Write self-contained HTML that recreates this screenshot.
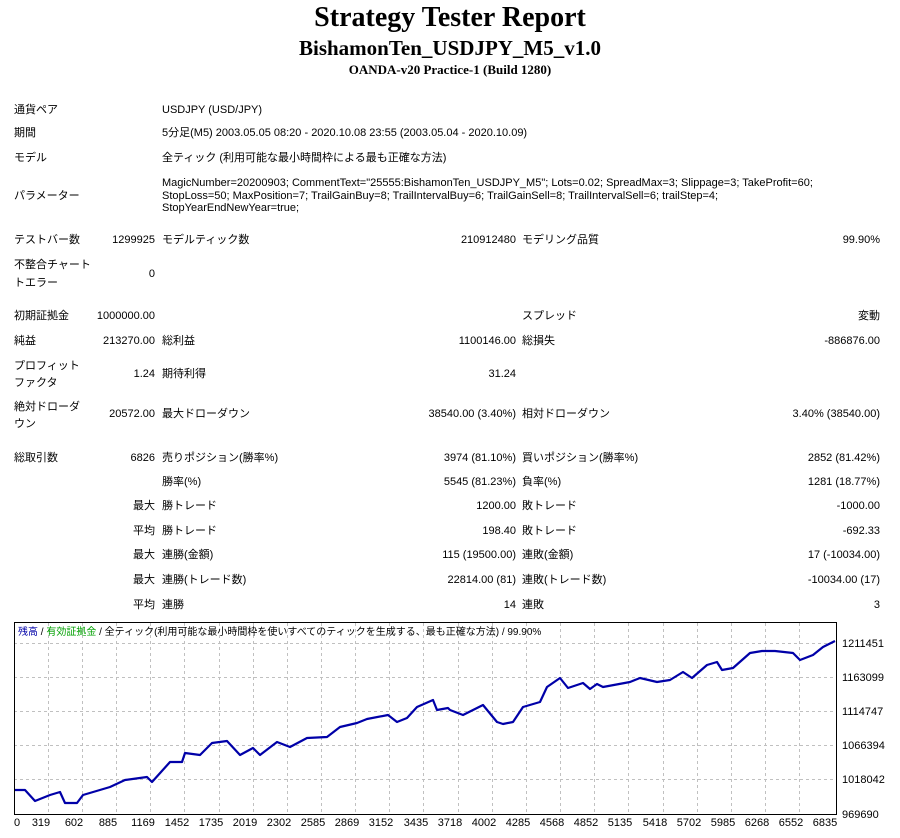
<!DOCTYPE html>
<html><head><meta charset="utf-8"><style>
body{margin:0;width:900px;height:838px;background:#fff;position:relative;overflow:hidden;font-family:"Liberation Sans","Noto Sans CJK JP",sans-serif;font-size:11px;color:#000}
.t{position:absolute;line-height:14px;white-space:nowrap}
.r{position:absolute;line-height:14px;white-space:nowrap;text-align:right}
.h{position:absolute;left:0;width:900px;text-align:center;font-family:"Liberation Serif","Noto Serif CJK SC",serif;font-weight:bold}
</style></head><body>
<div class="h" style="top:2px;font-size:28px;line-height:32px">Strategy Tester Report</div>
<div class="h" style="top:36px;font-size:21px;line-height:24px">BishamonTen_USDJPY_M5_v1.0</div>
<div class="h" style="top:62px;font-size:13px;line-height:16px">OANDA-v20 Practice-1 (Build 1280)</div>

<div class="t" style="left:14px;top:103px">通貨ペア</div><div class="t" style="left:162px;top:103px">USDJPY (USD/JPY)</div>
<div class="t" style="left:14px;top:126px">期間</div><div class="t" style="left:162px;top:126px">5分足(M5) 2003.05.05 08:20 - 2020.10.08 23:55 (2003.05.04 - 2020.10.09)</div>
<div class="t" style="left:14px;top:151px">モデル</div><div class="t" style="left:162px;top:151px">全ティック (利用可能な最小時間枠による最も正確な方法)</div>
<div class="t" style="left:14px;top:189px">パラメーター</div>
<div class="t" style="left:162px;top:177px;line-height:12.5px">MagicNumber=20200903; CommentText="25555:BishamonTen_USDJPY_M5"; Lots=0.02; SpreadMax=3; Slippage=3; TakeProfit=60;<br>StopLoss=50; MaxPosition=7; TrailGainBuy=8; TrailIntervalBuy=6; TrailGainSell=8; TrailIntervalSell=6; trailStep=4;<br>StopYearEndNewYear=true;</div>

<div class="t" style="left:14px;top:233px">テストバー数</div><div class="r" style="right:745px;top:233px">1299925</div>
<div class="t" style="left:162px;top:233px">モデルティック数</div><div class="r" style="right:384px;top:233px">210912480</div>
<div class="t" style="left:522px;top:233px">モデリング品質</div><div class="r" style="right:20px;top:233px">99.90%</div>
<div class="t" style="left:14px;top:256px;line-height:18px">不整合チャート<br>トエラー</div><div class="r" style="right:745px;top:267px">0</div>

<div class="t" style="left:14px;top:309px">初期証拠金</div><div class="r" style="right:745px;top:309px">1000000.00</div>
<div class="t" style="left:522px;top:309px">スプレッド</div><div class="r" style="right:20px;top:309px">変動</div>
<div class="t" style="left:14px;top:334px">純益</div><div class="r" style="right:745px;top:334px">213270.00</div>
<div class="t" style="left:162px;top:334px">総利益</div><div class="r" style="right:384px;top:334px">1100146.00</div>
<div class="t" style="left:522px;top:334px">総損失</div><div class="r" style="right:20px;top:334px">-886876.00</div>
<div class="t" style="left:14px;top:358px;line-height:17px">プロフィット<br>ファクタ</div><div class="r" style="right:745px;top:367px">1.24</div>
<div class="t" style="left:162px;top:367px">期待利得</div><div class="r" style="right:384px;top:367px">31.24</div>
<div class="t" style="left:14px;top:399px;line-height:17px">絶対ドローダ<br>ウン</div><div class="r" style="right:745px;top:407px">20572.00</div>
<div class="t" style="left:162px;top:407px">最大ドローダウン</div><div class="r" style="right:384px;top:407px">38540.00 (3.40%)</div>
<div class="t" style="left:522px;top:407px">相対ドローダウン</div><div class="r" style="right:20px;top:407px">3.40% (38540.00)</div>

<div class="t" style="left:14px;top:451px">総取引数</div><div class="r" style="right:745px;top:451px">6826</div>
<div class="t" style="left:162px;top:451px">売りポジション(勝率%)</div><div class="r" style="right:384px;top:451px">3974 (81.10%)</div>
<div class="t" style="left:522px;top:451px">買いポジション(勝率%)</div><div class="r" style="right:20px;top:451px">2852 (81.42%)</div>
<div class="t" style="left:162px;top:475px">勝率(%)</div><div class="r" style="right:384px;top:475px">5545 (81.23%)</div>
<div class="t" style="left:522px;top:475px">負率(%)</div><div class="r" style="right:20px;top:475px">1281 (18.77%)</div>
<div class="r" style="right:745px;top:499px">最大</div><div class="t" style="left:162px;top:499px">勝トレード</div><div class="r" style="right:384px;top:499px">1200.00</div>
<div class="t" style="left:522px;top:499px">敗トレード</div><div class="r" style="right:20px;top:499px">-1000.00</div>
<div class="r" style="right:745px;top:524px">平均</div><div class="t" style="left:162px;top:524px">勝トレード</div><div class="r" style="right:384px;top:524px">198.40</div>
<div class="t" style="left:522px;top:524px">敗トレード</div><div class="r" style="right:20px;top:524px">-692.33</div>
<div class="r" style="right:745px;top:548px">最大</div><div class="t" style="left:162px;top:548px">連勝(金額)</div><div class="r" style="right:384px;top:548px">115 (19500.00)</div>
<div class="t" style="left:522px;top:548px">連敗(金額)</div><div class="r" style="right:20px;top:548px">17 (-10034.00)</div>
<div class="r" style="right:745px;top:573px">最大</div><div class="t" style="left:162px;top:573px">連勝(トレード数)</div><div class="r" style="right:384px;top:573px">22814.00 (81)</div>
<div class="t" style="left:522px;top:573px">連敗(トレード数)</div><div class="r" style="right:20px;top:573px">-10034.00 (17)</div>
<div class="r" style="right:745px;top:598px">平均</div><div class="t" style="left:162px;top:598px">連勝</div><div class="r" style="right:384px;top:598px">14</div>
<div class="t" style="left:522px;top:598px">連敗</div><div class="r" style="right:20px;top:598px">3</div>

<svg style="position:absolute;left:0;top:0" width="900" height="838">
<g stroke="#c0c0c0" stroke-dasharray="3,3" stroke-width="1">
<line x1="14" y1="643.5" x2="836" y2="643.5"/><line x1="14" y1="677.5" x2="836" y2="677.5"/><line x1="14" y1="711.5" x2="836" y2="711.5"/><line x1="14" y1="745.5" x2="836" y2="745.5"/><line x1="14" y1="779.5" x2="836" y2="779.5"/>
<g id="vg">
<line x1="48.5" y1="623" x2="48.5" y2="814"/><line x1="82.5" y1="623" x2="82.5" y2="814"/><line x1="116.5" y1="623" x2="116.5" y2="814"/><line x1="150.5" y1="623" x2="150.5" y2="814"/><line x1="184.5" y1="623" x2="184.5" y2="814"/><line x1="219.5" y1="623" x2="219.5" y2="814"/><line x1="253.5" y1="623" x2="253.5" y2="814"/><line x1="287.5" y1="623" x2="287.5" y2="814"/><line x1="321.5" y1="623" x2="321.5" y2="814"/><line x1="355.5" y1="623" x2="355.5" y2="814"/><line x1="389.5" y1="623" x2="389.5" y2="814"/><line x1="423.5" y1="623" x2="423.5" y2="814"/><line x1="458.5" y1="623" x2="458.5" y2="814"/><line x1="492.5" y1="623" x2="492.5" y2="814"/><line x1="526.5" y1="623" x2="526.5" y2="814"/><line x1="560.5" y1="623" x2="560.5" y2="814"/><line x1="594.5" y1="623" x2="594.5" y2="814"/><line x1="628.5" y1="623" x2="628.5" y2="814"/><line x1="663.5" y1="623" x2="663.5" y2="814"/><line x1="697.5" y1="623" x2="697.5" y2="814"/><line x1="731.5" y1="623" x2="731.5" y2="814"/><line x1="765.5" y1="623" x2="765.5" y2="814"/><line x1="799.5" y1="623" x2="799.5" y2="814"/>
</g></g>
<rect x="14.5" y="622.5" width="822" height="192" fill="none" stroke="#000" stroke-width="1"/>
<polyline fill="none" stroke="#0000a8" stroke-width="2.2" stroke-linejoin="round" points="15,790 25,790 35,801 50,795 60,792 65,803 77,803 83,795 110,787 125,780 147,777 152,782 170,762 182,762 185,753 200,755 212,743 227,741 240,755 253,748 260,755 277,742 290,747 307,738 327,737 340,727 357,723 367,719 388,715 397,722 407,718 417,707 433,700 437,710 448,708 450,710 463,715 483,705 497,722 503,724 513,722 523,707 540,702 547,687 560,678 568,688 583,683 590,689 597,684 603,687 630,682 640,678 657,682 670,680 683,672 692,678 707,665 717,662 722,670 733,668 750,653 762,651 775,651 793,653 800,660 813,655 823,647 835,641"/>
<g font-family="Liberation Sans,sans-serif" font-size="11" fill="#000">
<text x="842" y="647">1211451</text><text x="842" y="681">1163099</text><text x="842" y="715">1114747</text><text x="842" y="749">1066394</text><text x="842" y="783">1018042</text><text x="842" y="818">969690</text>
<g text-anchor="middle">
<text x="17" y="826">0</text><text x="41" y="826">319</text><text x="74" y="826">602</text><text x="108" y="826">885</text><text x="143" y="826">1169</text><text x="177" y="826">1452</text><text x="211" y="826">1735</text><text x="245" y="826">2019</text><text x="279" y="826">2302</text><text x="313" y="826">2585</text><text x="347" y="826">2869</text><text x="381" y="826">3152</text><text x="416" y="826">3435</text><text x="450" y="826">3718</text><text x="484" y="826">4002</text><text x="518" y="826">4285</text><text x="552" y="826">4568</text><text x="586" y="826">4852</text><text x="620" y="826">5135</text><text x="655" y="826">5418</text><text x="689" y="826">5702</text><text x="723" y="826">5985</text><text x="757" y="826">6268</text><text x="791" y="826">6552</text><text x="825" y="826">6835</text>
</g>
<text x="18" y="635" font-size="10" font-family="Liberation Sans,Noto Sans CJK JP,sans-serif"><tspan fill="#0000a8">残高</tspan> / <tspan fill="#00a000">有効証拠金</tspan> / 全ティック(利用可能な最小時間枠を使いすべてのティックを生成する、最も正確な方法) / 99.90%</text>
</g>
</svg>
</body></html>
